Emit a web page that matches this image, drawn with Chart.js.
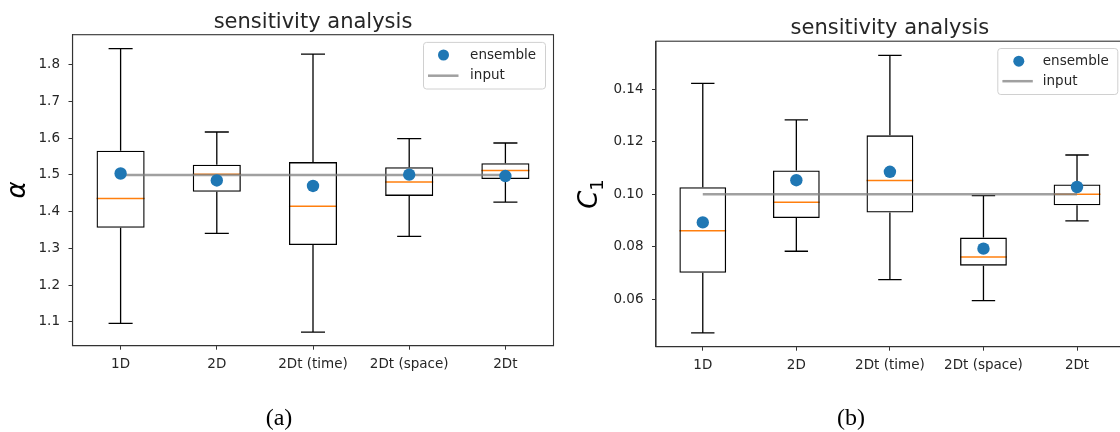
<!DOCTYPE html>
<html><head><meta charset="utf-8">
<script src="https://cdn.jsdelivr.net/npm/chart.js@4.4.0/dist/chart.umd.min.js"></script>
<style>
html,body{margin:0;padding:0;background:#fff;width:1120px;height:432px;overflow:hidden;position:relative}
#wa{position:absolute;left:0;top:0;width:560px;height:432px}
#wb{position:absolute;left:560px;top:0;width:570px;height:432px}
.cap{position:absolute;top:417px;font-family:"Liberation Serif","Times New Roman",serif;font-size:24px;color:#000;transform:translate(-50%,-50%);white-space:nowrap}
</style></head><body>
<div id="wa"><canvas id="ca"></canvas></div>
<div id="wb"><canvas id="cb"></canvas></div>
<div class="cap" style="left:279px">(a)</div>
<div class="cap" style="left:851px">(b)</div>
<script>
// ---------- data ----------
const categories = ["1D", "2D", "2Dt (time)", "2Dt (space)", "2Dt"];

// panel (a): alpha
const alphaMin    = [1.096, 1.341, 1.072, 1.333, 1.426];
const alphaQ1     = [1.356, 1.454, 1.309, 1.443, 1.489];
const alphaMedian = [1.436, 1.502, 1.415, 1.481, 1.512];
const alphaQ3     = [1.566, 1.528, 1.535, 1.521, 1.532];
const alphaMax    = [1.844, 1.617, 1.829, 1.599, 1.587];
const alphaMean   = [1.504, 1.485, 1.470, 1.501, 1.497];
const alphaInput  = [1.5, 1.5, 1.5, 1.5, 1.5];
const alphaTicks  = [1.1, 1.2, 1.3, 1.4, 1.5, 1.6, 1.7, 1.8];

// panel (b): C1
const c1Min    = [0.0472, 0.0783, 0.0675, 0.0595, 0.0899];
const c1Q1     = [0.0701, 0.0910, 0.0931, 0.0728, 0.0958];
const c1Median = [0.0861, 0.0970, 0.1053, 0.0761, 0.1000];
const c1Q3     = [0.1027, 0.1091, 0.1225, 0.0835, 0.1038];
const c1Max    = [0.1423, 0.1284, 0.1530, 0.0995, 0.1150];
const c1Mean   = [0.0893, 0.1054, 0.1086, 0.0793, 0.1028];
const c1Input  = [0.10, 0.10, 0.10, 0.10, 0.10];
const c1Ticks  = [0.06, 0.08, 0.10, 0.12, 0.14];

const legendLabels = ["ensemble", "input"];
const titleText = "sensitivity analysis";

// ---------- styling ----------
const TXT = '#262626';
const SPINE = '#333333';
const BLUE = '#1f77b4';
const ORANGE = '#ff7f0e';
const GRAY = 'rgba(128,128,128,0.75)';
const SANS = '"DejaVu Sans", "Noto Sans", sans-serif';

function boxPlugin(mins, q1s, meds, q3s, maxs) {
  return {
    id: 'boxWhisk',
    beforeDatasetsDraw(chart) {
      const ctx = chart.ctx, xs = chart.scales.x, ys = chart.scales.y;
      const unit = xs.getPixelForValue(1) - xs.getPixelForValue(0);
      const hb = unit * 0.25, hc = unit * 0.125;
      ctx.save();
      for (let i = 0; i < categories.length; i++) {
        const x = xs.getPixelForValue(i);
        const yMin = ys.getPixelForValue(mins[i]), yQ1 = ys.getPixelForValue(q1s[i]);
        const yMed = ys.getPixelForValue(meds[i]), yQ3 = ys.getPixelForValue(q3s[i]);
        const yMax = ys.getPixelForValue(maxs[i]);
        ctx.strokeStyle = '#000'; ctx.lineWidth = 1.3;
        ctx.beginPath();
        ctx.moveTo(x, yQ3); ctx.lineTo(x, yMax);
        ctx.moveTo(x, yQ1); ctx.lineTo(x, yMin);
        ctx.moveTo(x - hc, yMax); ctx.lineTo(x + hc, yMax);
        ctx.moveTo(x - hc, yMin); ctx.lineTo(x + hc, yMin);
        ctx.stroke();
        ctx.strokeStyle = ORANGE; ctx.lineWidth = 1.5;
        ctx.beginPath();
        ctx.moveTo(x - hb, yMed); ctx.lineTo(x + hb, yMed);
        ctx.stroke();
      }
      ctx.restore();
    }
  };
}

const framePlugin = {
  id: 'frame',
  afterDatasetsDraw(chart) {
    const {left, right, top, bottom} = chart.chartArea;
    const ctx = chart.ctx;
    ctx.save();
    ctx.strokeStyle = SPINE; ctx.lineWidth = 1.1;
    ctx.strokeRect(left, top, right - left, bottom - top);
    ctx.restore();
  }
};

// y-axis label drawn as main symbol + optional subscript (matplotlib mathtext look)
function yLabelPlugin(main, sub, cx, cy) {
  return {
    id: 'yLabel',
    afterDraw(chart) {
      const ctx = chart.ctx;
      ctx.save();
      ctx.translate(cx, cy);
      ctx.rotate(-Math.PI / 2);
      ctx.fillStyle = '#000';
      ctx.textBaseline = 'alphabetic';
      ctx.font = 'italic 26px ' + SANS;
      const w1 = ctx.measureText(main).width;
      ctx.font = '18px ' + SANS;
      const w2 = sub ? ctx.measureText(sub).width : 0;
      const x0 = -(w1 + w2) / 2;
      ctx.font = 'italic 26px ' + SANS;
      ctx.fillText(main, x0, 9);
      if (sub) {
        ctx.font = '18px ' + SANS;
        ctx.fillText(sub, x0 + w1, 15);
      }
      ctx.restore();
    }
  };
}

function legendPlugin(geo) {
  return {
    id: 'mplLegend',
    afterDraw(chart) {
      const ctx = chart.ctx, ca = chart.chartArea;
      const bx = ca.right - geo.inset - geo.w, by = ca.top + geo.insetTop;
      ctx.save();
      ctx.beginPath();
      ctx.roundRect(bx, by, geo.w, geo.h, 3);
      ctx.fillStyle = 'rgba(255,255,255,0.85)';
      ctx.fill();
      ctx.strokeStyle = '#d0d0d0'; ctx.lineWidth = 1;
      ctx.stroke();
      const y1 = by + geo.row1, y2 = by + geo.row2;
      ctx.fillStyle = BLUE;
      ctx.beginPath(); ctx.arc(bx + geo.dotX, y1, 5.5, 0, Math.PI * 2); ctx.fill();
      ctx.strokeStyle = GRAY; ctx.lineWidth = 2.5;
      ctx.beginPath(); ctx.moveTo(bx + geo.lineX0, y2); ctx.lineTo(bx + geo.lineX1, y2); ctx.stroke();
      ctx.fillStyle = TXT;
      ctx.font = '13.5px ' + SANS;
      ctx.textBaseline = 'middle'; ctx.textAlign = 'left';
      ctx.fillText(legendLabels[0], bx + geo.textX, y1);
      ctx.fillText(legendLabels[1], bx + geo.textX, y2);
      ctx.restore();
    }
  };
}

function makeChart(id, p) {
  return new Chart(document.getElementById(id), {
    type: 'bar',
    data: {
      labels: categories,
      datasets: [
        {
          type: 'line', label: legendLabels[0], data: p.mean, showLine: false,
          pointRadius: 6.2, pointHoverRadius: 6.2, pointBackgroundColor: BLUE, pointBorderWidth: 0,
          borderColor: BLUE, order: 0
        },
        {
          type: 'line', label: legendLabels[1], data: p.input, borderColor: GRAY,
          borderWidth: 2.5, pointRadius: 0, fill: false, order: 1
        },
        {
          type: 'bar', label: 'box', data: p.q1.map((v, i) => [v, p.q3[i]]),
          backgroundColor: 'rgba(0,0,0,0)', borderColor: '#000', borderWidth: 1.3,
          borderSkipped: false, categoryPercentage: 1, barPercentage: 0.5, grouped: false, order: 2
        }
      ]
    },
    options: {
      responsive: true, maintainAspectRatio: false, animation: false,
      layout: {padding: p.pad},
      plugins: {
        legend: {display: false}, tooltip: {enabled: false},
        title: {display: true, text: titleText, fullSize: false, color: TXT,
          font: {family: SANS, size: 21, weight: 'normal', lineHeight: 1.2},
          padding: {top: p.titleTop, bottom: p.titleBottom}}
      },
      scales: {
        x: {
          offset: true,
          grid: {display: true, drawOnChartArea: false, drawTicks: true, tickLength: 4, color: SPINE, offset: false},
          border: {display: true, color: SPINE, width: 1.1},
          ticks: {color: TXT, font: {family: SANS, size: 13.5}, padding: 7, maxRotation: 0, autoSkip: false},
          afterFit(s) { s.height = 40; }
        },
        y: {
          min: p.yMin, max: p.yMax,
          grid: {display: true, drawOnChartArea: false, drawTicks: true, tickLength: 4, color: SPINE},
          border: {display: true, color: SPINE, width: 1.1},
          ticks: {color: TXT, font: {family: SANS, size: 13.5}, padding: 8.5,
            callback: v => Number(v).toFixed(p.dec)},
          afterBuildTicks(s) { s.ticks = p.ticks.map(v => ({value: v})); },
          title: {display: false},
          afterFit(s) { s.width = p.yWidth; }
        }
      }
    },
    plugins: [boxPlugin(p.min, p.q1, p.med, p.q3, p.max), framePlugin, legendPlugin(p.leg),
              yLabelPlugin(p.yMain, p.ySub, p.yLabX, p.yLabY)]
  });
}

makeChart('ca', {
  min: alphaMin, q1: alphaQ1, med: alphaMedian, q3: alphaQ3, max: alphaMax,
  mean: alphaMean, input: alphaInput, ticks: alphaTicks, dec: 1,
  yMin: 1.035, yMax: 1.882, yMain: 'α', ySub: '', yLabX: 16, yLabY: 190, yWidth: 72.5,
  pad: {left: 0, right: 6.5, top: 0, bottom: 46.3},
  titleTop: 9.5, titleBottom: 0,
  leg: {w: 122, h: 46.6, inset: 8, insetTop: 7.7, row1: 12.6, row2: 33.3, dotX: 20, lineX0: 4.5, lineX1: 35, textX: 46.6}
});

makeChart('cb', {
  min: c1Min, q1: c1Q1, med: c1Median, q3: c1Q3, max: c1Max,
  mean: c1Mean, input: c1Input, ticks: c1Ticks, dec: 2,
  yMin: 0.0419, yMax: 0.1584, yMain: 'C', ySub: '1', yLabX: 28, yLabY: 194, yWidth: 96,
  pad: {left: 0, right: 5.2, top: 0, bottom: 45.3},
  titleTop: 16, titleBottom: 0,
  leg: {w: 120, h: 46, inset: 6, insetTop: 7.3, row1: 12.7, row2: 32.7, dotX: 21, lineX0: 4.6, lineX1: 35, textX: 45}
});
</script>
</body></html>
